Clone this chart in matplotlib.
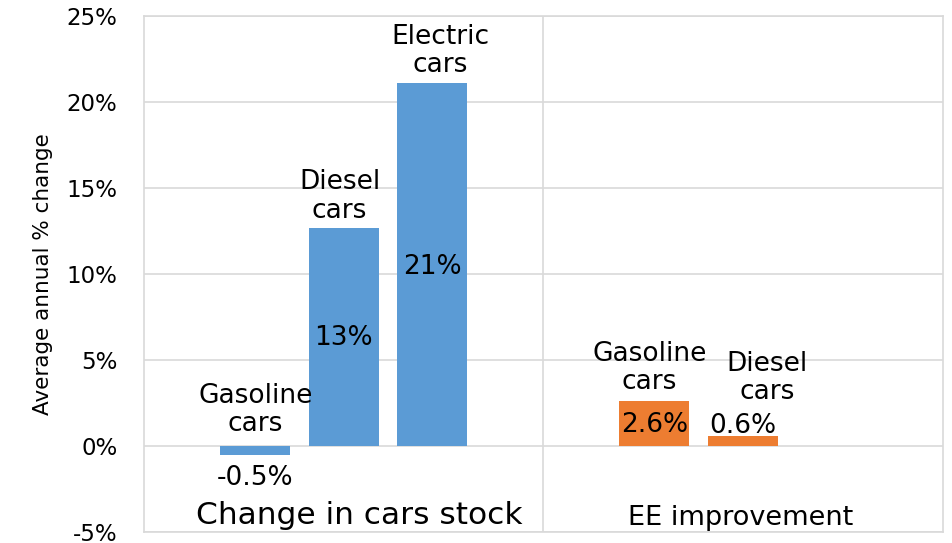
import matplotlib
matplotlib.use('Agg')
import matplotlib.pyplot as plt
from matplotlib.ticker import FuncFormatter

plt.rcParams['font.family'] = ['DejaVu Sans']

# data
groups = ["Change in cars stock", "EE improvement"]
stock_names = ["Gasoline\ncars", "Diesel\ncars", "Electric\ncars"]
stock_values = [-0.5, 12.7, 21.1]
stock_labels = ["-0.5%", "13%", "21%"]
ee_names = ["Gasoline\ncars", "Diesel\ncars"]
ee_values = [2.6, 0.6]
ee_labels = ["2.6%", "0.6%"]
y_ticks = [-5, 0, 5, 10, 15, 20, 25]

blue = '#5B9BD5'
orange = '#ED7D31'
grid_c = '#D9D9D9'

fig = plt.figure(figsize=(9.53, 5.43), dpi=100)
ax = fig.add_axes([0.151, 0.0203, 0.8385, 0.9502])

width = 0.175
step = 0.2215
x_stock = [0.279 + step * i for i in range(len(stock_values))]
x_ee = [1.2775 + step * i for i in range(len(ee_values))]

ax.bar(x_stock, stock_values, width=width, color=blue, zorder=3)
ax.bar(x_ee, ee_values, width=width, color=orange, zorder=3)

ax.set_xlim(0, 2)
ax.set_ylim(-5, 25)
ax.set_yticks(y_ticks)
ax.yaxis.set_major_formatter(FuncFormatter(lambda v, p: f"{v:.0f}%"))
ax.set_xticks([])
ax.tick_params(axis='y', length=0, labelsize=16.5, pad=19)
ax.grid(axis='y', color=grid_c, linewidth=1.2, zorder=0)
ax.axvline(1, color=grid_c, linewidth=1.2, zorder=0)
for s in ax.spines.values():
    s.set_color(grid_c)
    s.set_linewidth(1.2)
ax.set_ylabel("Average annual % change", fontsize=15.5, labelpad=10)

fs = 19
ls = 1.12
# stock annotations
ax.text(x_stock[0], 2.1, stock_names[0], ha='center', va='center', fontsize=fs, linespacing=ls)
ax.text(x_stock[0], -1.86, stock_labels[0], ha='center', va='center', fontsize=fs)
ax.text(0.49, 14.5, stock_names[1], ha='center', va='center', fontsize=fs, linespacing=ls)
ax.text(x_stock[1], 6.28, stock_labels[1], ha='center', va='center', fontsize=fs)
ax.text(0.7425, 22.97, stock_names[2], ha='center', va='center', fontsize=fs, linespacing=ls)
ax.text(x_stock[2], 10.4, stock_labels[2], ha='center', va='center', fontsize=fs)

# EE annotations
ax.text(1.265, 4.53, ee_names[0], ha='center', va='center', fontsize=fs, linespacing=ls)
ax.text(x_ee[0], 1.22, ee_labels[0], ha='center', va='center', fontsize=fs)
ax.text(1.56, 3.95, ee_names[1], ha='center', va='center', fontsize=fs, linespacing=ls)
ax.text(1.5, 1.16, ee_labels[1], ha='center', va='center', fontsize=fs)

# group labels inside the plot
ax.text(0.54, -4.07, groups[0], ha='center', va='center', fontsize=22.5)
ax.text(1.4925, -4.19, groups[1], ha='center', va='center', fontsize=19.5)

fig.savefig("out.png", dpi=100)
